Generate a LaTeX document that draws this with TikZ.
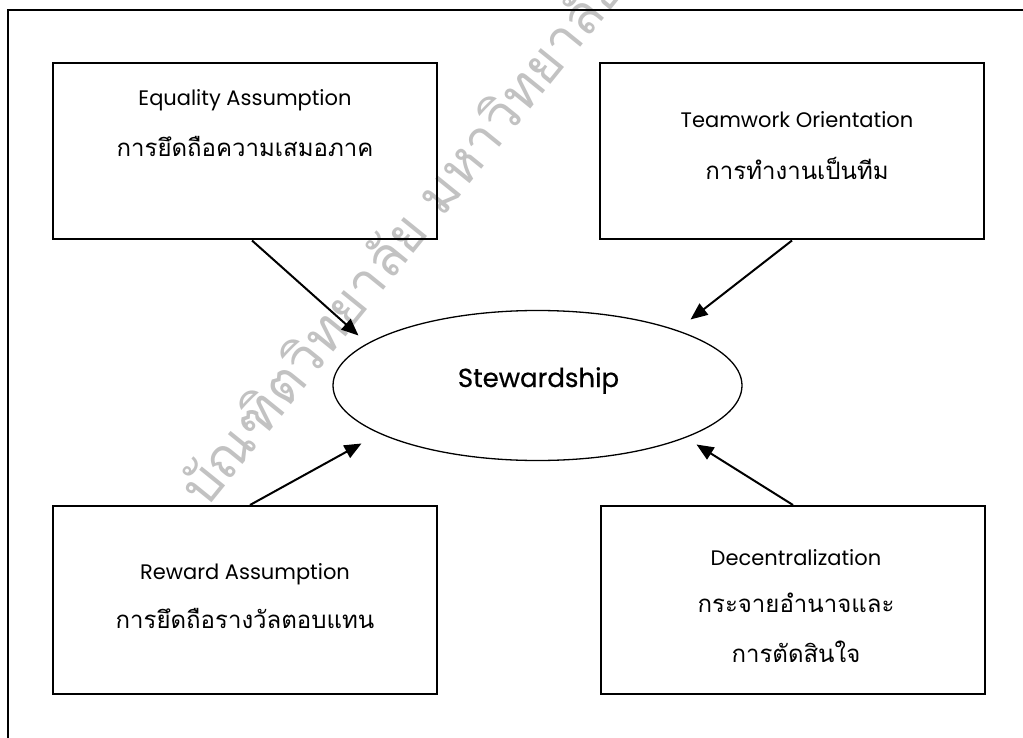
\documentclass[tikz,border=0pt]{standalone}
\usepackage{fontspec}
\usepackage{pdfrender}
\usetikzlibrary{arrows.meta,shapes.geometric}
\newfontfamily\latinfont{Poppins}
\newfontfamily\titlefont[FakeBold=0.6]{Poppins}
\newfontfamily\thaifont[Script=Thai]{Loma}
\begin{document}
\begin{tikzpicture}[x=1pt,y=-1pt,
  box/.style={draw,line width=2pt,minimum width=384pt,inner sep=0pt},
  entext/.style={font=\latinfont\fontsize{21}{24}\selectfont,anchor=base,inner sep=0pt},
  thtext/.style={font=\thaifont\fontsize{24}{28}\selectfont,anchor=base,inner sep=0pt},
  centre/.style={draw,ellipse,line width=1.3pt,minimum width=409pt,minimum height=150pt,inner sep=0pt},
  arr/.style={line width=2pt,-{Triangle[length=17pt,width=14pt]}},
  stamp/.style={font=\thaifont\fontsize{54}{60}\selectfont,text=black!24,anchor=base west,inner sep=0pt}
]
\useasboundingbox (0,0) rectangle (1023,738);

% graduate-school stamp behind the chart
\node[stamp,rotate=51] (stamp) at (206,510)
  {\textpdfrender{TextRenderingMode=Stroke,LineWidth=0.9}{บัณฑิตวิทยาลัย มหาวิทยาลัย}};

% page frame (top and left rules)
\draw[line width=2pt] (1023,10) -- (8,10) -- (8,738);

% four factor boxes
\node[box,minimum height=176pt] (eq)   at (245,151.5) {};
\node[box,minimum height=176pt] (team) at (792,151.5) {};
\node[box,minimum height=188pt] (rew)  at (245,600)   {};
\node[box,minimum height=188pt] (dec)  at (793,600)   {};

\node[entext] (eqen)   at (245,106) {Equality Assumption};
\node[thtext] (eqth)   at (245,157) {การยึดถือความเสมอภาค};
\node[entext] (teamen) at (797,128) {Teamwork Orientation};
\node[thtext] (teamth) at (797,180) {การทำงานเป็นทีม};
\node[entext] (rewen)  at (245,579) {Reward Assumption};
\node[thtext] (rewth)  at (245,628) {การยึดถือรางวัลตอบแทน};
\node[entext] (decen)  at (796,565) {Decentralization};
\node[thtext] (decth1) at (796,612) {กระจายอำนาจและ};
\node[thtext] (decth2) at (796,662) {การตัดสินใจ};

% central concept
\node[centre] (st) at (537.5,385.5) {};
\node[font=\titlefont\fontsize{26}{30}\selectfont,anchor=base,inner sep=0pt] (sttext) at (538.5,387) {Stewardship};

% arrow tips, just off the ellipse
\coordinate (tipeq)   at ([shift={(-179,-50)}]st.center);
\coordinate (tipteam) at ([shift={(153,-66)}]st.center);
\coordinate (tiprew)  at ([shift={(-176,58)}]st.center);
\coordinate (tipdec)  at ([shift={(159,59)}]st.center);

\draw[arr] ([xshift=7pt]eq.south)  -- (tipeq);
\draw[arr] (team.south)            -- (tipteam);
\draw[arr] ([xshift=5pt]rew.north) -- (tiprew);
\draw[arr] (dec.north)             -- (tipdec);
\end{tikzpicture}
\end{document}
